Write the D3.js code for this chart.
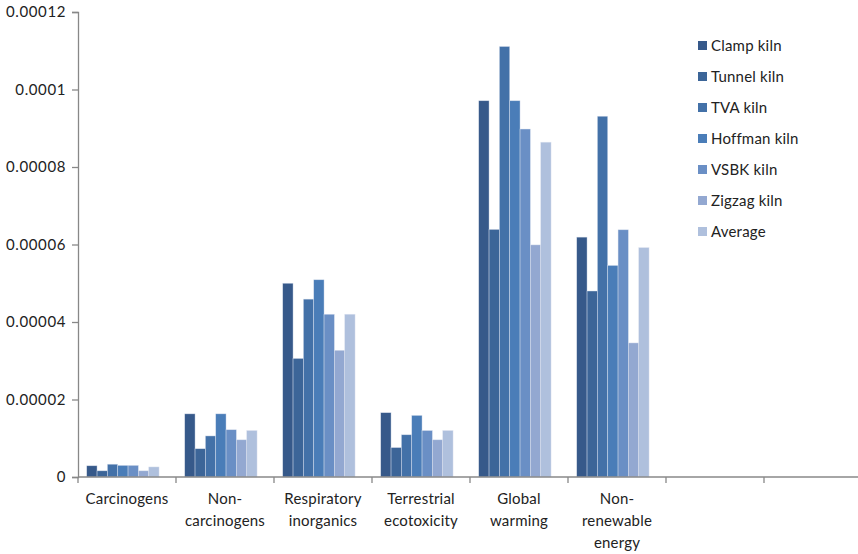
<!DOCTYPE html>
<html>
<head>
<meta charset="utf-8">
<script src="https://cdn.jsdelivr.net/npm/d3@7"></script>
<style>
  html, body { margin: 0; padding: 0; background: #fff; }
  svg text { font-family: Lato, "Open Sans", sans-serif; fill: #222; }
</style>
</head>
<body>
<svg id="chart" width="858" height="554"></svg>
<script>
// Impact categories (two trailing empty slots on the axis)
const categories = [
  ["Carcinogens"],
  ["Non-", "carcinogens"],
  ["Respiratory", "inorganics"],
  ["Terrestrial", "ecotoxicity"],
  ["Global", "warming"],
  ["Non-", "renewable", "energy"],
  [""],
  [""]
];
const categoryKeys = ["c1", "c2", "c3", "c4", "c5", "c6", "c7", "c8"];

const seriesNames = ["Clamp kiln", "Tunnel kiln", "TVA kiln", "Hoffman kiln", "VSBK kiln", "Zigzag kiln", "Average"];
const seriesColors = ["#36598a", "#3c6598", "#4371a8", "#4a7db8", "#6a8fc5", "#93a8d1", "#afc0dd"];

// Values per kiln, one entry per impact category with data
const clamp   = [0.0000029, 0.0000163, 0.0000500, 0.0000166, 0.0000971, 0.0000619];
const tunnel  = [0.0000016, 0.0000073, 0.0000306, 0.0000076, 0.0000639, 0.0000480];
const tva     = [0.0000033, 0.0000106, 0.0000459, 0.0000109, 0.0001111, 0.0000931];
const hoffman = [0.0000030, 0.0000163, 0.0000509, 0.0000159, 0.0000971, 0.0000546];
const vsbk    = [0.0000030, 0.0000122, 0.0000420, 0.0000120, 0.0000898, 0.0000638];
const zigzag  = [0.0000016, 0.0000096, 0.0000327, 0.0000096, 0.0000599, 0.0000346];
const average = [0.0000026, 0.0000120, 0.0000420, 0.0000120, 0.0000864, 0.0000592];

const yTicks = [0, 0.00002, 0.00004, 0.00006, 0.00008, 0.0001, 0.00012];
const yTickLabels = ["0", "0.00002", "0.00004", "0.00006", "0.00008", "0.0001", "0.00012"];

const seriesValues = [clamp, tunnel, tva, hoffman, vsbk, zigzag, average];

const svg = d3.select("#chart");
const plotLeft = 78, plotRight = 862, plotTop = 12, plotBottom = 477;

const x0 = d3.scaleBand().domain(categoryKeys).range([plotLeft, plotRight]).paddingInner(0).paddingOuter(0);
const bw = x0.bandwidth();
const x1 = d3.scaleBand().domain(seriesNames).range([bw * 0.089, bw * 0.827]).padding(0);
const y = d3.scaleLinear().domain([0, 0.00012]).range([plotBottom, plotTop]);

// Bars
const rows = [];
seriesValues.forEach((vals, si) => {
  vals.forEach((v, ci) => rows.push({ cat: categoryKeys[ci], s: seriesNames[si], si, v }));
});

svg.append("g").selectAll("rect").data(rows).join("rect")
  .attr("x", d => x0(d.cat) + x1(d.s))
  .attr("y", d => y(d.v))
  .attr("width", x1.bandwidth())
  .attr("height", d => y(0) - y(d.v))
  .attr("fill", d => seriesColors[d.si])
  .attr("stroke", "#dfe6f1")
  .attr("stroke-width", 0.6)
  .attr("stroke-opacity", 0.7);

// Y axis
const yAxis = d3.axisLeft(y).tickValues(yTicks)
  .tickFormat((d, i) => yTickLabels[i]).tickSize(6).tickPadding(6);
const gy = svg.append("g").attr("transform", `translate(${plotLeft},0)`).call(yAxis);
gy.select(".domain").attr("stroke", "#888").attr("stroke-width", 1.3);
gy.selectAll(".tick line").attr("stroke", "#888").attr("stroke-width", 1.3);
gy.selectAll(".tick text").attr("font-size", 15).attr("font-family", "Lato, sans-serif")
  .attr("letter-spacing", 0.6).attr("fill", "#222");

// X axis line with category boundary ticks
const gx = svg.append("g");
gx.append("line").attr("x1", plotLeft).attr("x2", plotRight).attr("y1", y(0)).attr("y2", y(0))
  .attr("stroke", "#888").attr("stroke-width", 1.3);
gx.selectAll("line.bt").data(categoryKeys).join("line").attr("class", "bt")
  .attr("x1", d => x0(d)).attr("x2", d => x0(d))
  .attr("y1", y(0)).attr("y2", y(0) + 6)
  .attr("stroke", "#888").attr("stroke-width", 1.3);

// Category labels (multi-line)
const labels = gx.selectAll("text.cat").data(categoryKeys).join("text").attr("class", "cat")
  .attr("text-anchor", "middle")
  .attr("font-size", 15)
  .attr("letter-spacing", 0.2)
  .attr("transform", d => `translate(${x0(d) + bw / 2},${y(0) + 27})`);
labels.each(function (d, i) {
  const t = d3.select(this);
  categories[i].forEach((line, li) => {
    t.append("tspan").attr("x", 0).attr("dy", li === 0 ? 0 : 22).text(line);
  });
});

// Legend
const legend = svg.append("g").attr("transform", "translate(698,46)");
const items = legend.selectAll("g").data(seriesNames).join("g")
  .attr("transform", (d, i) => `translate(0,${i * 31})`);
items.append("rect").attr("x", 0).attr("y", -5).attr("width", 9).attr("height", 9)
  .attr("fill", (d, i) => seriesColors[i]);
items.append("text").attr("x", 13).attr("y", 5).attr("font-size", 15)
  .attr("letter-spacing", 0.2).text(d => d);
</script>
</body>
</html>
